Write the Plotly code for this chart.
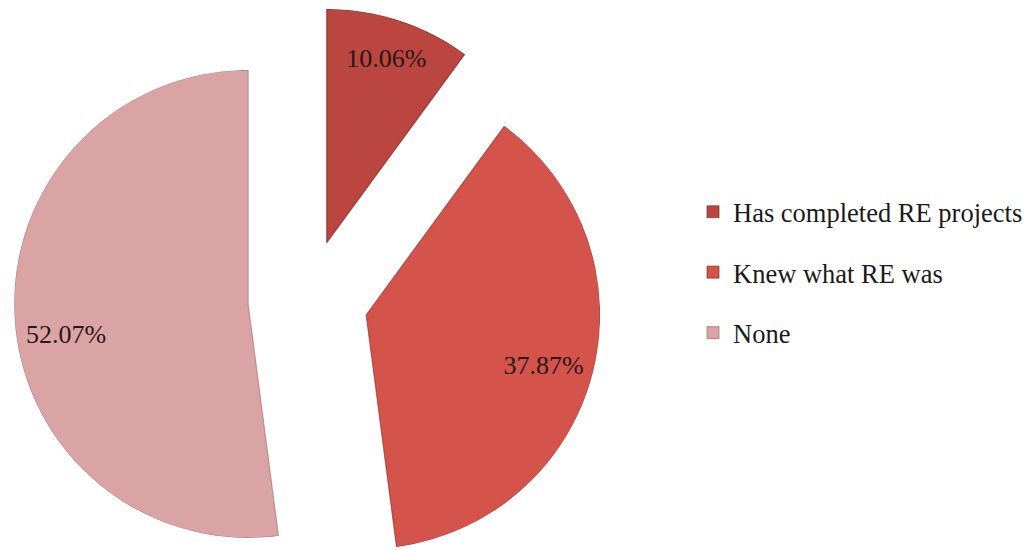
import math
import plotly.graph_objects as go

# Survey shares (percent) per respondent group
categories = ["Has completed RE projects", "Knew what RE was", "None"]
shares = [10.06, 37.87, 52.07]

# Styling
slice_colors = ["#bb4640", "#d4544b", "#dba4a4"]
edge_colors = ["rgba(105,35,32,0.55)", "rgba(120,40,36,0.55)", "rgba(150,100,100,0.55)"]
label_radius = [0.82, 0.79, 0.79]      # label distance from slice tip (fraction of radius)
label_turn = [0.0, 2.0, -6.5]          # small angular nudge of each label (deg)

W, H = 1029, 550
pie_cx, pie_cy = 308, 300   # centre of the un-exploded pie (px)
pie_r = 234                 # slice radius (px)
explode = 60                # how far each slice is pulled out (px)

serif = "Liberation Serif"

fig = go.Figure()
layout_polars = {}

total = sum(shares)
start = 0.0
for i, (name, val) in enumerate(zip(categories, shares)):
    span = 360.0 * val / total
    mid = start + span / 2.0
    a = math.radians(mid)
    ox = pie_cx + explode * math.sin(a)
    oy = pie_cy - explode * math.cos(a)

    dom_x = [max(0.0, (ox - pie_r) / W), min(1.0, (ox + pie_r) / W)]
    dom_y = [max(0.0, 1 - (oy + pie_r) / H), min(1.0, 1 - (oy - pie_r) / H)]

    key = "polar" if i == 0 else f"polar{i + 1}"
    layout_polars[key] = dict(
        domain=dict(x=dom_x, y=dom_y),
        bgcolor="rgba(0,0,0,0)",
        hole=0,
        angularaxis=dict(visible=False, direction="clockwise", rotation=90,
                         showgrid=False, showline=False),
        radialaxis=dict(visible=False, range=[0, 1], showgrid=False, showline=False),
    )

    fig.add_trace(go.Barpolar(
        r=[1], theta=[mid], width=[span],
        name=name, legendgroup=name, subplot=key,
        marker=dict(color=slice_colors[i], line=dict(color=edge_colors[i], width=1.2)),
        hovertemplate=f"{name}: {val:.2f}%<extra></extra>",
    ))
    fig.add_trace(go.Scatterpolar(
        r=[label_radius[i]], theta=[mid + label_turn[i]],
        mode="text", text=[f"{val:.2f}%"],
        textfont=dict(family=serif, size=26, color="#2a1515"),
        showlegend=False, hoverinfo="skip", subplot=key,
    ))
    start += span

fig.update_layout(
    width=W, height=H,
    margin=dict(l=0, r=0, t=0, b=0),
    paper_bgcolor="white",
    plot_bgcolor="white",
    showlegend=True,
    legend=dict(
        x=693 / W, xanchor="left",
        y=1 - 188 / H, yanchor="top",
        font=dict(family=serif, size=26.5, color="#1a1a1a"),
        tracegroupgap=23,
        traceorder="grouped",
        bgcolor="rgba(0,0,0,0)",
    ),
    **layout_polars,
)

fig.write_html("out.html")
